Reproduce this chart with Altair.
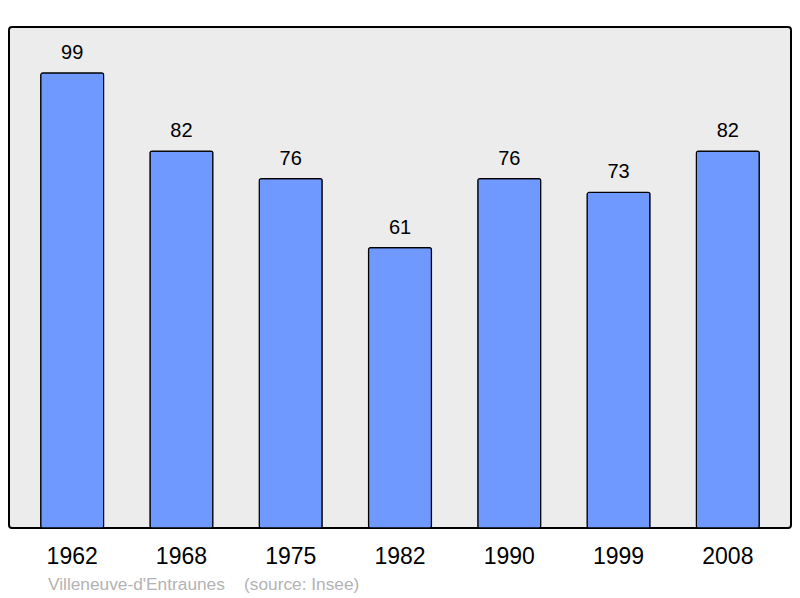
import altair as alt
import pandas as pd

years = ["1962", "1968", "1975", "1982", "1990", "1999", "2008"]
population = [99, 82, 76, 61, 76, 73, 82]

df = pd.DataFrame({"year": years, "pop": population})

FONT = "Liberation Sans"

base = alt.Chart(df).encode(
    x=alt.X(
        "year:N",
        sort=years,
        scale=alt.Scale(paddingInner=0.424, paddingOuter=0.29),
        axis=alt.Axis(
            title=None, labelAngle=0, ticks=False, domain=False,
            labelFontSize=23, labelFont=FONT, labelColor="black",
            labelPadding=17, labelBaseline="top",
        ),
    ),
    y=alt.Y(
        "pop:Q",
        scale=alt.Scale(domain=[0, 109], nice=False, zero=True),
        axis=None,
    ),
)

bars = base.mark_bar(
    color="#7099ff", stroke="black", strokeWidth=1.2, cornerRadius=2
)

labels = base.mark_text(
    dy=-20, fontSize=20, font=FONT, color="black", baseline="middle"
).encode(text="pop:Q")

chart = (
    alt.layer(bars, labels)
    .properties(
        width=782,
        height=501,
        autosize=alt.AutoSizeParams(type="none"),
        padding={"left": 1, "top": 19, "right": 1, "bottom": 70},
        title=alt.TitleParams(
            text="Villeneuve-d'Entraunes\u00a0\u00a0\u00a0\u00a0(source: Insee)",
            orient="bottom",
            anchor="start",
            dx=39,
            offset=8,
            baseline="top",
            fontSize=17.3,
            font=FONT,
            fontWeight="normal",
            color="#b3b3b3",
        ),
    )
    .configure_view(
        fill="#ececec", stroke="black", strokeWidth=2, cornerRadius=3
    )
)

chart.save("out.html", embed_options={"renderer": "svg", "actions": False})
